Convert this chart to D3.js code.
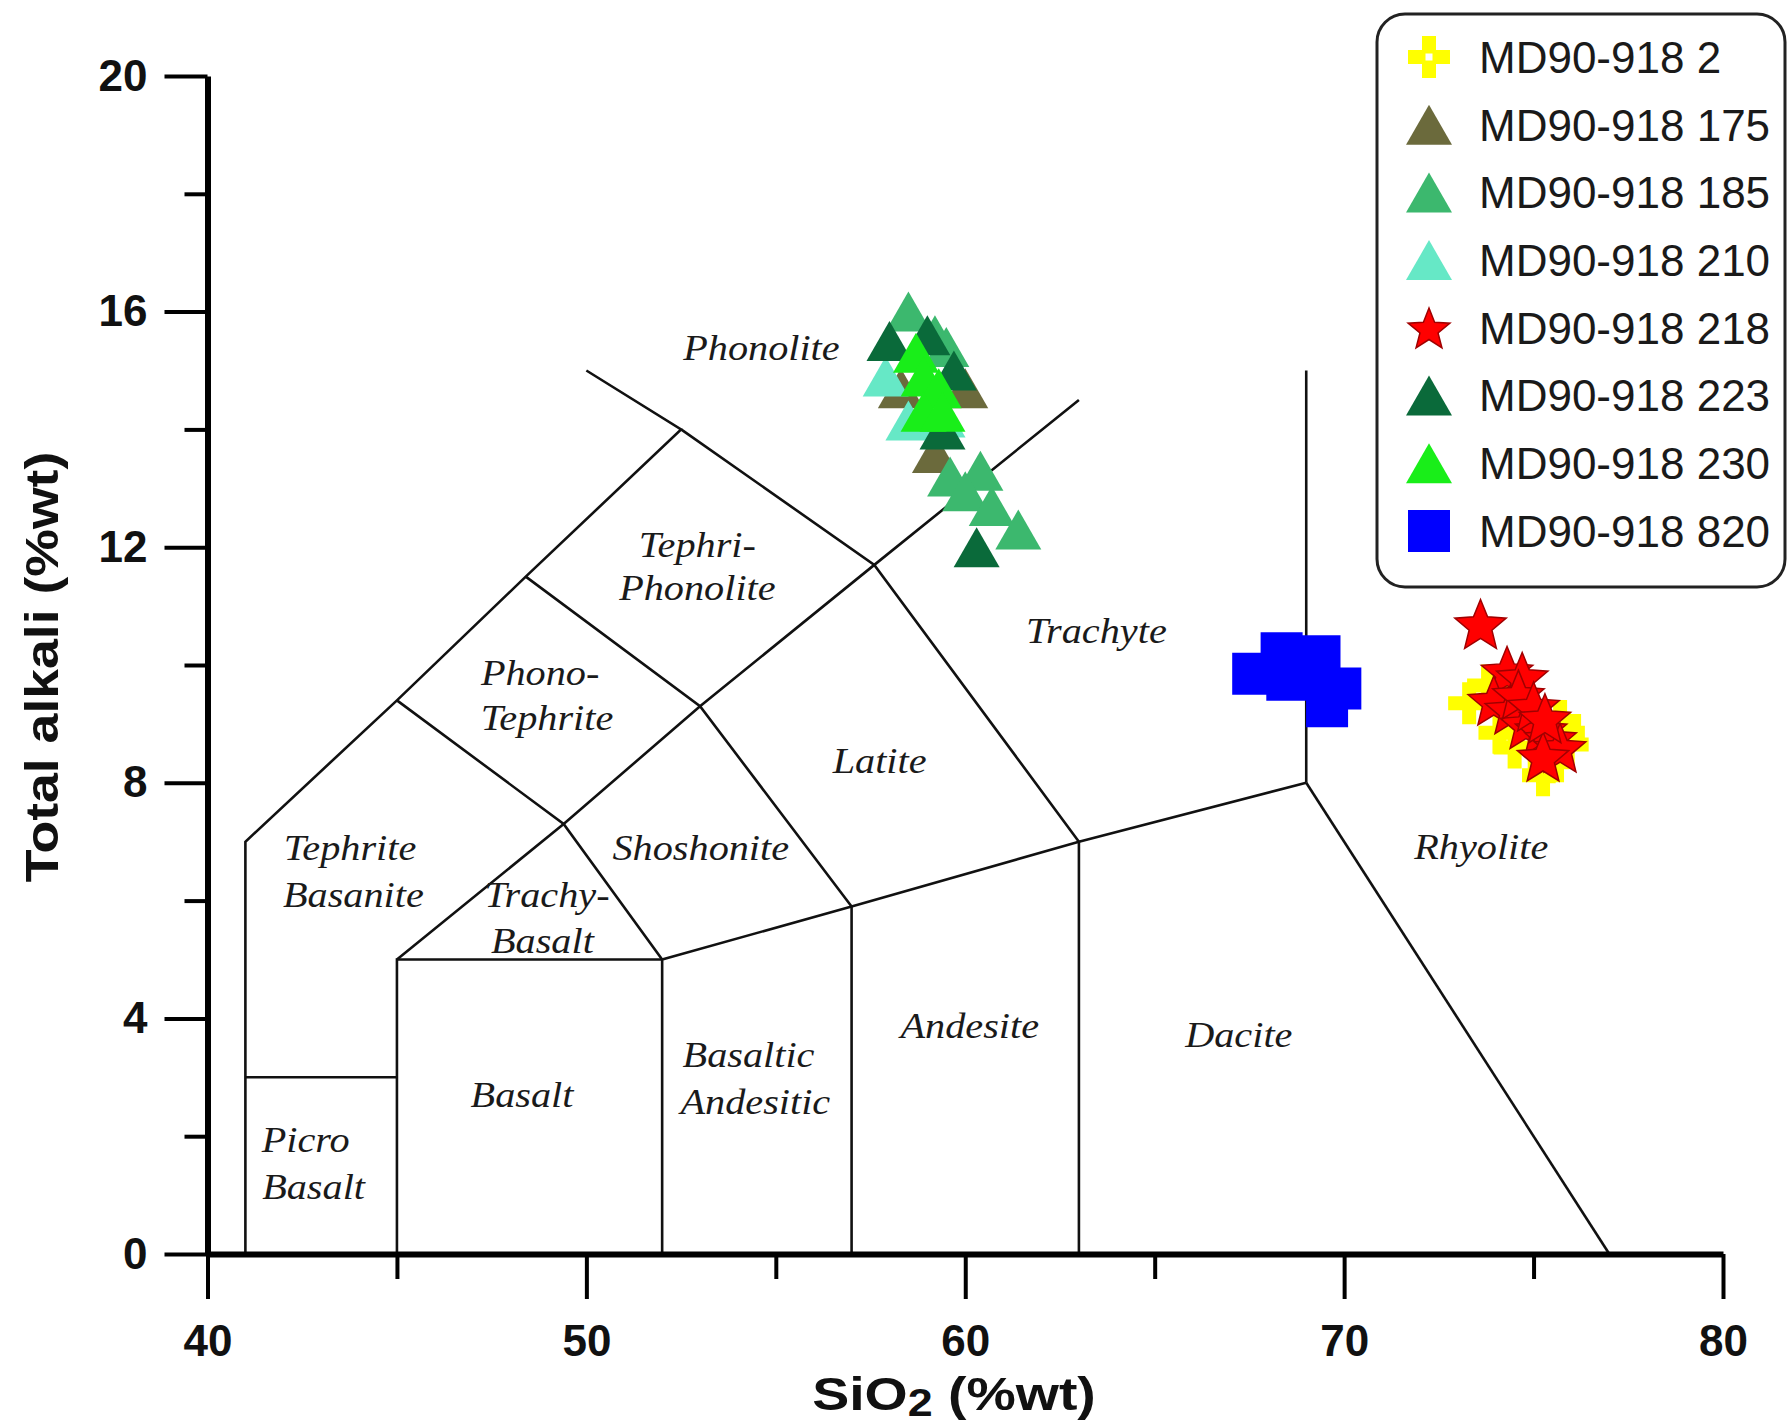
<!DOCTYPE html>
<html><head><meta charset="utf-8">
<script src="https://cdn.jsdelivr.net/npm/d3@7"></script>
<style>body{margin:0;background:#fff}svg{display:block}</style>
</head><body><svg id="chart" width="1788" height="1427"></svg>
<script>
// ---------- data ----------
const xTicksMajor = [40, 50, 60, 70, 80];
const xTicksMinor = [45, 55, 65, 75];
const yTicksMajor = [0, 4, 8, 12, 16, 20];
const yTicksMinor = [2, 6, 10, 14, 18];

const seriesNames = ["MD90-918 2", "MD90-918 175", "MD90-918 185", "MD90-918 210",
                     "MD90-918 218", "MD90-918 223", "MD90-918 230", "MD90-918 820"];
const seriesSymbols = ["cross", "triangle", "triangle", "triangle", "star", "triangle", "triangle", "square"];
const seriesColors = ["#ffff00", "#6b6a3c", "#3cb86e", "#66e8c6", "#ff0000", "#0a6a3a", "#19ee19", "#0000ff"];

const s2   = [[73.3, 9.35], [73.8, 9.65], [75.7, 9.05], [74.1, 8.85], [75.9, 8.65], [75.25, 8.13], [75.4, 8.35], [74.5, 8.6], [75.8, 8.85], [74.9, 9.2]];
const s175 = [[58.3, 14.7], [60.0, 14.7], [59.2, 13.6]];
const s185 = [[58.5, 16.0], [59.2, 15.6], [59.5, 15.4], [59.6, 13.2], [60.4, 13.3], [60.0, 12.95], [60.7, 12.7], [61.4, 12.3]];
const s210 = [[57.9, 14.9], [58.5, 14.15], [59.4, 14.2]];
const s218 = [[73.6, 10.7], [74.3, 9.9], [74.7, 9.8], [73.95, 9.4], [74.4, 9.25], [74.8, 9.0], [75.2, 8.9], [75.45, 8.75], [75.7, 8.6], [75.25, 8.45], [74.6, 9.5], [75.0, 9.3], [75.3, 9.1]];
const s223 = [[58.0, 15.5], [59.0, 15.6], [59.7, 15.0], [59.4, 14.0], [60.3, 12.0]];
const s230 = [[58.7, 15.3], [58.9, 14.9], [59.3, 14.7], [58.9, 14.3], [59.4, 14.3]];
const s820 = [[67.6, 9.85], [68.35, 10.2], [69.35, 10.15], [68.85, 9.8], [69.9, 9.6], [69.55, 9.3], [68.5, 9.75]];
const seriesData = [s2, s175, s185, s210, s218, s223, s230, s820];

// TAS classification boundaries (SiO2, Na2O+K2O)
const boundaries = [
  [[41,0],[41,7],[45,9.4],[48.4,11.5],[52.5,14],[50,15]],
  [[41,3],[45,3]],
  [[45,0],[45,5],[52,5]],
  [[52,0],[52,5],[57,5.9],[63,7],[69,8]],
  [[57,0],[57,5.9]],
  [[63,0],[63,7]],
  [[69,8],[77,0]],
  [[69,8],[69,15]],
  [[45,5],[49.4,7.3],[53,9.3],[57.6,11.7],[63,14.5]],
  [[45,9.4],[49.4,7.3],[52,5]],
  [[48.4,11.5],[53,9.3],[57,5.9]],
  [[52.5,14],[57.6,11.7],[63,7]]
];

const fieldNames = ["Phonolite", "Tephri-", "Phonolite", "Phono-", "Tephrite", "Trachyte", "Latite", "Shoshonite",
  "Tephrite", "Basanite", "Trachy-", "Basalt", "Rhyolite", "Andesite", "Dacite", "Basaltic", "Andesitic",
  "Basalt", "Picro", "Basalt"];
const fieldX = [54.62, 52.93, 52.93, 48.78, 48.96, 63.46, 57.74, 53.02, 43.76, 43.85, 48.96, 48.84, 73.62, 60.12, 67.22, 54.28, 54.46, 48.3, 42.59, 42.8];
const fieldY = [15.39, 12.04, 11.31, 9.87, 9.10, 10.59, 8.38, 6.90, 6.90, 6.10, 6.10, 5.31, 6.91, 3.87, 3.72, 3.39, 2.59, 2.71, 1.94, 1.14];

// ---------- drawing ----------
const svg = d3.select("#chart");
svg.append("rect").attr("width", 1788).attr("height", 1427).attr("fill", "#fff");

const x = d3.scaleLinear().domain([40, 80]).range([207.5, 1723]);
const y = d3.scaleLinear().domain([0, 20]).range([1254, 76]);

// boundaries
const line = d3.line().x(d => x(d[0])).y(d => y(d[1]));
svg.append("g").selectAll("path").data(boundaries).join("path")
  .attr("d", line).attr("fill", "none").attr("stroke", "#111")
  .attr("stroke-width", 2.6).attr("stroke-linejoin", "miter");

// field labels
svg.append("g").selectAll("text").data(fieldNames).join("text")
  .attr("transform", (d, i) => `translate(${x(fieldX[i])},${y(fieldY[i])}) scale(1.15,1)`)
  .attr("text-anchor", "middle").attr("dy", "0.35em")
  .attr("font-family", "'Liberation Serif','Times New Roman',serif")
  .attr("font-style", "italic").attr("font-size", 35).attr("fill", "#1a1a1a")
  .text(d => d);

// symbols
function symbolPath(type, big) {
  if (type === "triangle") { const w = 46, h = 40; return `M0,${-h/2}L${w/2},${h/2}L${-w/2},${h/2}Z`; }
  if (type === "square") { const s = 21; return `M${-s},${-s}H${s}V${s}H${-s}Z`; }
  if (type === "cross") { const a = 21, b = 7; return `M${-b},${-a}H${b}V${-b}H${a}V${b}H${b}V${a}H${-b}V${b}H${-a}V${-b}H${-b}Z`; }
  if (type === "star") {
    const R = big ? 27 : 22, r = big ? 12 : 9.5; let p = "";
    for (let k = 0; k < 10; k++) {
      const rad = k % 2 ? r : R, ang = -Math.PI / 2 + k * Math.PI / 5;
      p += (k ? "L" : "M") + (rad * Math.cos(ang)).toFixed(2) + "," + (rad * Math.sin(ang) + R * 0.1).toFixed(2);
    }
    return p + "Z";
  }
}
function drawSymbol(g, type, color, cx, cy) {
  const node = g.append("path").attr("d", symbolPath(type, false))
    .attr("transform", `translate(${cx},${cy})`).attr("fill", color);
  if (type === "star") node.attr("stroke", "#a00000").attr("stroke-width", 1.5);
  if (type === "cross") {
    g.append("rect").attr("x", cx - 3.5).attr("y", cy - 3.5).attr("width", 7).attr("height", 7).attr("fill", "#fff");
  }
}
const pts = svg.append("g");
seriesData.forEach((arr, si) => {
  arr.forEach(d => {
    const node = pts.append("path").attr("d", symbolPath(seriesSymbols[si], true))
      .attr("transform", `translate(${x(d[0])},${y(d[1])})`).attr("fill", seriesColors[si]);
    if (seriesSymbols[si] === "star") node.attr("stroke", "#a00000").attr("stroke-width", 1.5);
  });
});

// axes
const fontAxis = "'Liberation Sans',Arial,sans-serif";
function styleAxis(g, tickW) {
  g.selectAll(".tick line").attr("stroke", "#000").attr("stroke-width", tickW);
  g.selectAll("text").attr("font-family", fontAxis).attr("font-weight", "bold")
    .attr("font-size", 44).attr("fill", "#111");
}
const gxMinor = svg.append("g").attr("transform", `translate(0,${y(0)})`)
  .call(d3.axisBottom(x).tickValues(xTicksMinor).tickSize(25).tickFormat(""));
gxMinor.select(".domain").remove(); styleAxis(gxMinor, 4);
const gx = svg.append("g").attr("transform", `translate(0,${y(0)})`)
  .call(d3.axisBottom(x).tickValues(xTicksMajor).tickSize(45).tickSizeOuter(0).tickPadding(26).tickFormat(d3.format("d")));
gx.select(".domain").attr("stroke", "#000").attr("stroke-width", 6);
styleAxis(gx, 4);

const gyMinor = svg.append("g").attr("transform", `translate(${x(40)},0)`)
  .call(d3.axisLeft(y).tickValues(yTicksMinor).tickSize(23).tickFormat(""));
gyMinor.select(".domain").remove(); styleAxis(gyMinor, 4);
const gy = svg.append("g").attr("transform", `translate(${x(40)},0)`)
  .call(d3.axisLeft(y).tickValues(yTicksMajor).tickSize(43).tickSizeOuter(0).tickPadding(17).tickFormat(d3.format("d")));
gy.select(".domain").attr("stroke", "#000").attr("stroke-width", 6);
styleAxis(gy, 4);

// axis titles
const xt = svg.append("text").attr("transform", "translate(954,1410) scale(1.18,1)")
  .attr("text-anchor", "middle").attr("font-family", fontAxis).attr("font-weight", "bold")
  .attr("font-size", 47).attr("fill", "#111");
xt.append("tspan").text("SiO");
xt.append("tspan").attr("font-size", 38).attr("dy", 6).text("2");
xt.append("tspan").attr("dy", -6).text(" (%wt)");

svg.append("text").attr("transform", "translate(58,667) rotate(-90) scale(1.14,1)")
  .attr("text-anchor", "middle").attr("font-family", fontAxis).attr("font-weight", "bold")
  .attr("font-size", 47).attr("fill", "#111").text("Total alkali (%wt)");

// legend
const lg = svg.append("g");
lg.append("rect").attr("x", 1377).attr("y", 14).attr("width", 408).attr("height", 573)
  .attr("rx", 28).attr("fill", "#fff").attr("stroke", "#222").attr("stroke-width", 3);
seriesNames.forEach((name, i) => {
  const cy = 57 + i * 67.7;
  drawSymbol(lg, seriesSymbols[i], seriesColors[i], 1429, cy);
  lg.append("text").attr("x", 1479).attr("y", cy).attr("dy", "0.36em")
    .attr("font-family", fontAxis).attr("font-size", 44).attr("fill", "#1a1a1a").text(name);
});
</script>
</body></html>
